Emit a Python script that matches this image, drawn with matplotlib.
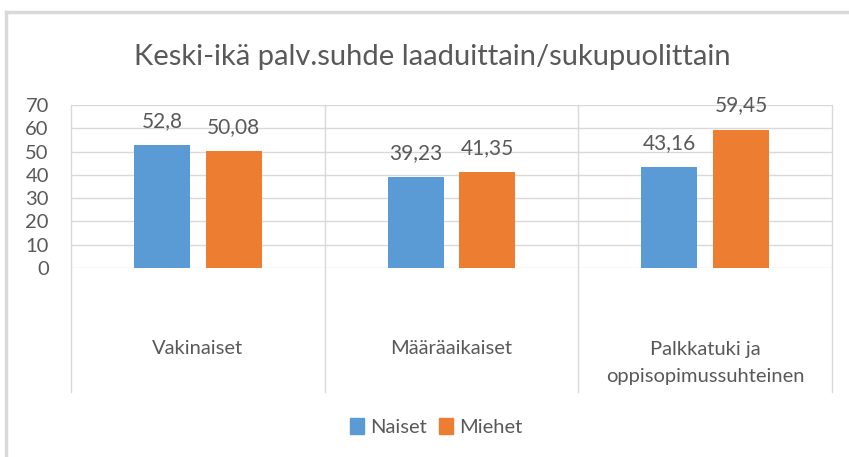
import matplotlib
matplotlib.use("Agg")
import matplotlib.pyplot as plt
from matplotlib.lines import Line2D
from matplotlib.patches import Patch

plt.rcParams['font.family'] = ['Lato', 'DejaVu Sans']

categories = ["Vakinaiset", "Määräaikaiset", "Palkkatuki ja\noppisopimussuhteinen"]
naiset = [52.8, 39.23, 43.16]
miehet = [50.08, 41.35, 59.45]
naiset_labels = ["52,8", "39,23", "43,16"]
miehet_labels = ["50,08", "41,35", "59,45"]
yticks = [0, 10, 20, 30, 40, 50, 60, 70]

blue = "#5B9BD5"
orange = "#ED7D31"
txt = "#595959"
grid = "#D9D9D9"

W, H = 849, 457
fig = plt.figure(figsize=(W / 100, H / 100), dpi=100)

# plot area in pixels: x 71..832, y 105..268
ax = fig.add_axes([71 / W, 1 - 268 / H, (832 - 71) / W, (268 - 105) / H])
ax.set_xlim(0, 3)
ax.set_ylim(0, 70)

bw = 0.22
gap = 0.063
xs = [i + 0.5 for i in range(3)]
xn = [x - (bw + gap) / 2 for x in xs]
xm = [x + (bw + gap) / 2 for x in xs]
ax.bar(xn, naiset, width=bw, color=blue, zorder=3)
ax.bar(xm, miehet, width=bw, color=orange, zorder=3)

for x, v, s in zip(xn, naiset, naiset_labels):
    ax.annotate(s, (x, v), xytext=(0, 18), textcoords="offset pixels",
                ha="center", va="baseline", fontsize=15, color=txt)
for x, v, s in zip(xm, miehet, miehet_labels):
    ax.annotate(s, (x, v), xytext=(0, 18), textcoords="offset pixels",
                ha="center", va="baseline", fontsize=15, color=txt)

ax.set_yticks(yticks)
ax.set_yticklabels([str(t) for t in yticks], fontsize=14.5, color=txt)
ax.tick_params(axis="y", length=0, pad=16)
ax.set_xticks([])
for s in ax.spines.values():
    s.set_visible(False)
for t in yticks:
    ax.axhline(t, color=grid, lw=1, zorder=1)

# vertical separators reaching down into the category label area
bottom = -(392 - 268) / (268 - 105)
for i in range(4):
    ax.add_line(Line2D([i / 3, i / 3], [1, bottom], transform=ax.transAxes,
                       color=grid, lw=1, clip_on=False, zorder=1))

for x, c in zip(xs, categories):
    ypix = 363 if "\n" in c else 348
    ax.text(x, -(ypix - 268) / (268 - 105), c, transform=ax.get_xaxis_transform(),
            ha="center", va="center", fontsize=14.5, color=txt, linespacing=1.65)

fig.text(0.5 * (137 + 727) / W, 1 - 57 / H, "Keski-ikä palv.suhde laaduittain/sukupuolittain",
         ha="center", va="center", fontsize=21, color=txt)

handles = [Patch(color=blue, label="Naiset"), Patch(color=orange, label="Miehet")]
fig.legend(handles=handles, loc="center", bbox_to_anchor=(436 / W, 1 - 427 / H),
           ncol=2, frameon=False, fontsize=14.5, labelcolor=txt,
           handlelength=0.7, handleheight=0.85, handletextpad=0.3, columnspacing=0.6)

# light border around the chart
fig.add_artist(Line2D([6 / W, 6 / W], [0, 1 - 12 / H], transform=fig.transFigure,
                      color="#D9D9D9", lw=2.5))
fig.add_artist(Line2D([6 / W, 1], [1 - 12 / H, 1 - 12 / H], transform=fig.transFigure,
                      color="#D9D9D9", lw=2.5))

fig.savefig("out.png", dpi=100)
